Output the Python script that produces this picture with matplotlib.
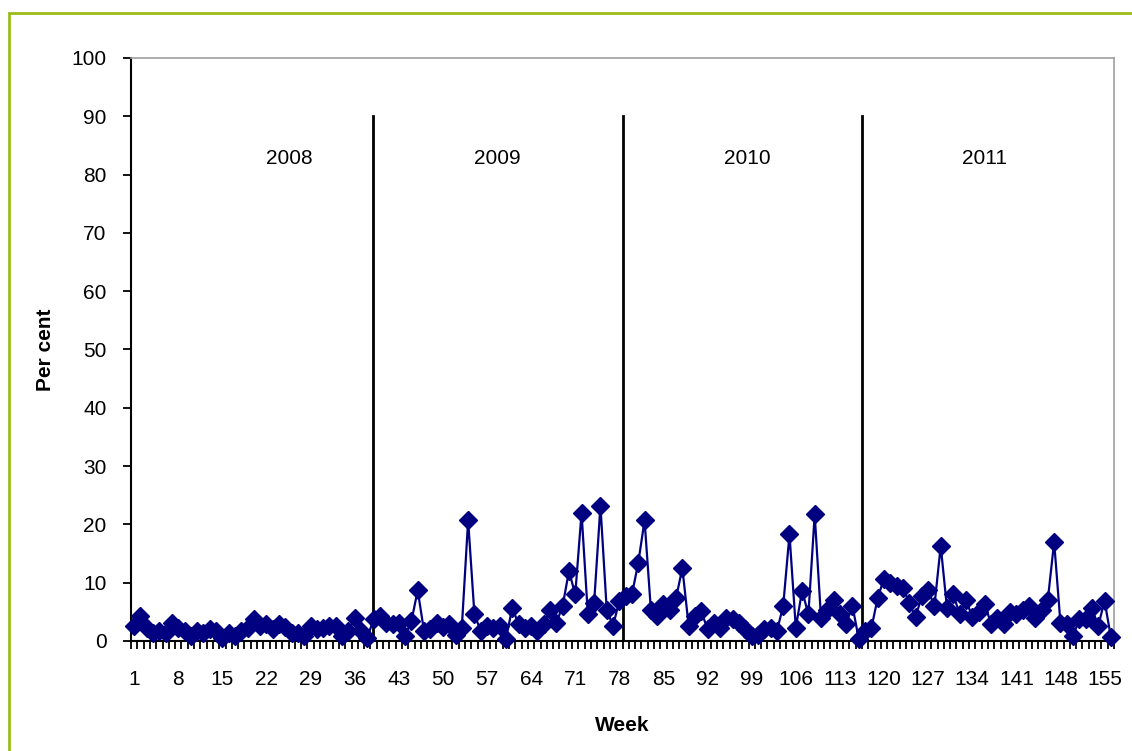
import matplotlib
matplotlib.use("Agg")
import matplotlib.pyplot as plt
from matplotlib.patches import Rectangle

plt.rcParams["font.family"] = ["Liberation Sans", "DejaVu Sans"]

# weekly percentages, weeks 1..156
pct_2008 = [2.6, 4.3, 2.3, 1.4, 1.7, 1.4, 3.1, 2.3, 1.7, 0.9,
            1.8, 1.4, 2.0, 1.8, 0.5, 1.4, 0.9, 1.7, 2.3, 3.7,
            2.6, 2.9, 2.0, 2.9, 2.4, 1.4, 1.4, 0.9, 2.6, 2.0,
            2.3, 2.6, 2.6, 0.9, 1.7, 4.0, 1.7, 0.6]
pct_2009 = [3.7, 4.3, 3.1, 2.9, 3.1, 0.9, 3.4, 8.7, 1.7, 2.0,
            3.1, 2.4, 3.0, 1.1, 2.3, 20.7, 4.6, 1.7, 2.6, 2.3,
            2.6, 0.3, 5.7, 2.9, 2.3, 2.6, 1.7, 2.9, 5.4, 3.1,
            6.0, 12.0, 8.0, 22.0, 4.6, 6.6, 23.2, 5.3, 2.6]
pct_2010 = [6.9, 7.7, 8.0, 13.4, 20.7, 5.4, 4.3, 6.3, 5.4, 7.4,
            12.5, 2.6, 4.3, 5.1, 2.0, 3.1, 2.3, 4.0, 3.7, 3.1,
            2.0, 0.9, 1.1, 2.0, 2.3, 1.7, 6.0, 18.3, 2.3, 8.6,
            4.6, 21.7, 4.0, 5.4, 7.1, 4.6, 3.0, 6.0, 0.3]
pct_2011 = [1.7, 2.2, 7.4, 10.7, 10.0, 9.5, 9.1, 6.6, 4.1, 7.7,
            8.7, 6.0, 16.3, 5.6, 8.0, 4.6, 7.1, 4.1, 4.9, 6.3,
            2.9, 4.0, 2.9, 5.0, 4.6, 5.4, 6.0, 4.0, 5.4, 7.1,
            17.0, 3.1, 2.9, 0.9, 3.7, 3.7, 5.6, 2.6, 6.9, 0.7]
percent = pct_2008 + pct_2009 + pct_2010 + pct_2011
weeks = list(range(1, len(percent) + 1))

years = ["2008", "2009", "2010", "2011"]
year_label_x = [25.6, 58.7, 98.3, 136.0]
year_breaks = [38.9, 78.5, 116.5]
week_labels = list(range(1, 157, 7))

FS = 15

fig = plt.figure(figsize=(11.32, 7.51), dpi=100)
fig.patches.append(Rectangle((9 / 1132, -0.05), 1.2, 1 - 13 / 751 + 0.05,
                             transform=fig.transFigure, fill=False,
                             edgecolor="#9ABB1A", linewidth=2.0))

ax = fig.add_axes([131 / 1132, 1 - 641 / 751, (1114 - 131) / 1132, (641 - 58) / 751])
ax.plot(weeks, percent, color="#000080", lw=1.6, marker="D", markersize=9,
        markeredgecolor="#000080", markerfacecolor="#000080", clip_on=False, zorder=3)

for xb in year_breaks:
    ax.plot([xb, xb], [0, 90], color="black", lw=2.0, zorder=2)
for lbl, xl in zip(years, year_label_x):
    ax.text(xl, 82.8, lbl, ha="center", va="center", fontsize=FS)

ax.set_xlim(0.5, 156.5)
ax.set_ylim(0, 100)
ax.set_yticks(range(0, 101, 10))
ax.set_xticks(week_labels)
ax.set_xticks([w + 0.5 for w in range(0, 157)], minor=True)
ax.tick_params(axis="x", which="major", length=0, labelsize=FS, pad=21)
ax.tick_params(axis="x", which="minor", length=6, width=1.3, direction="out")
ax.tick_params(axis="y", length=6, width=1.3, labelsize=FS, pad=11.5)

for side in ["top", "right"]:
    ax.spines[side].set_color("#a0a0a0")
    ax.spines[side].set_linewidth(1.2)
for side in ["left", "bottom"]:
    ax.spines[side].set_color("black")
    ax.spines[side].set_linewidth(1.5)

ax.set_xlabel("Week", fontsize=FS, fontweight="bold", labelpad=19)
ax.set_ylabel("Per cent", fontsize=FS, fontweight="bold", labelpad=12)

fig.savefig("out.png", dpi=100, facecolor="white")
